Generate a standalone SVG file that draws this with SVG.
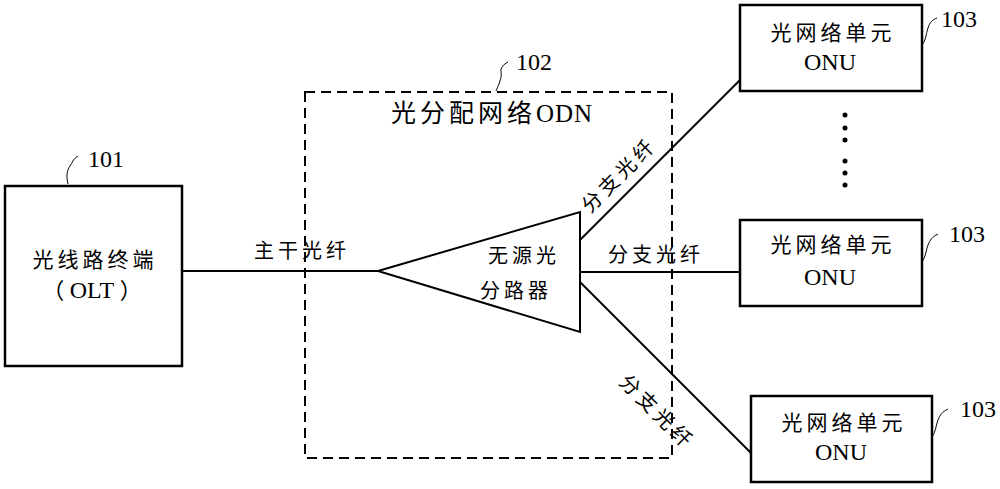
<svg xmlns="http://www.w3.org/2000/svg" width="1000" height="489" viewBox="0 0 1000 489">
<style>
.box{fill:#fff;stroke:#000;stroke-width:2.5}
.ln{fill:none;stroke:#000;stroke-width:2}
.lead{fill:none;stroke:#000;stroke-width:1}
.cn{font-family:"Liberation Serif","Noto Sans CJK SC",serif;font-size:20px;letter-spacing:4px;fill:#000;text-anchor:middle}
.en{font-family:"Liberation Serif",serif;font-size:24px;fill:#000;text-anchor:middle}
.num{font-family:"Liberation Serif",serif;font-size:24px;fill:#000}
</style>
<rect width="1000" height="489" fill="#fff"/>
<g id="odn">
<rect x="305" y="92" width="367" height="366" fill="none" stroke="#000" stroke-width="2" stroke-dasharray="10,6"/>
<text class="cn" x="492" y="122" style="font-size:25px;letter-spacing:4px">光分配网络<tspan font-family="Liberation Serif" style="letter-spacing:1px">ODN</tspan></text>
<path class="lead" d="M496,91 C500,82 502,76 501,72 C500,68 504,64 508,62"/>
<text class="num" x="516" y="70">102</text>
</g>
<g id="connectors">
<line class="ln" x1="182" y1="271" x2="378" y2="271"/>
<line class="ln" x1="580" y1="240" x2="740" y2="80"/>
<line class="ln" x1="580" y1="272" x2="740" y2="272"/>
<line class="ln" x1="580" y1="282" x2="751" y2="453"/>
<text class="cn" x="302" y="258">主干光纤</text>
<text class="cn" x="656" y="262">分支光纤</text>
<text class="cn" transform="translate(624,180) rotate(-45)">分支光纤</text>
<text class="cn" transform="translate(652,417) rotate(45)">分支光纤</text>
</g>
<g id="olt">
<rect class="box" x="5" y="186" width="177" height="180"/>
<text class="cn" x="95" y="267" style="font-size:21px">光线路终端</text>
<text class="cn" x="92" y="298" style="font-size:22px;letter-spacing:0px" xml:space="preserve">（ <tspan font-family="Liberation Serif" font-size="24">OLT</tspan> ）</text>
<path class="lead" d="M68,184 C66,176 67,170 70,166 C73,162 72,160 78,156"/>
<text class="num" x="88" y="167">101</text>
</g>
<g id="splitter">
<polygon points="378,271 580,212 580,332" fill="#fff" stroke="#000" stroke-width="2"/>
<text class="cn" x="524" y="263">无源光</text>
<text class="cn" x="516" y="298">分路器</text>
</g>
<g id="onu1">
<rect class="box" x="740" y="5" width="182" height="86"/>
<text class="cn" x="833" y="40" style="font-size:21px">光网络单元</text>
<text class="en" x="830" y="70">ONU</text>
<path class="lead" d="M922,45 C926,40 926,34 928,28 C930,22 932,20 937,18"/>
<text class="num" x="941" y="27">103</text>
</g>
<g id="dots" fill="#000">
<circle cx="845" cy="115" r="2.5"/>
<circle cx="845" cy="128" r="2.5"/>
<circle cx="845" cy="140" r="2.5"/>
<circle cx="845" cy="161" r="2.5"/>
<circle cx="845" cy="173" r="2.5"/>
<circle cx="845" cy="185" r="2.5"/>
</g>
<g id="onu2">
<rect class="box" x="740" y="220" width="182" height="86"/>
<text class="cn" x="833" y="252" style="font-size:21px">光网络单元</text>
<text class="en" x="830" y="285">ONU</text>
<path class="lead" d="M922,262 C926,256 926,250 928,245 C930,240 932,237 938,234"/>
<text class="num" x="949" y="242">103</text>
</g>
<g id="onu3">
<rect class="box" x="751" y="396" width="181" height="86"/>
<text class="cn" x="844" y="430" style="font-size:21px">光网络单元</text>
<text class="en" x="841" y="460">ONU</text>
<path class="lead" d="M932,437 C936,431 936,425 938,420 C940,415 942,412 948,409"/>
<text class="num" x="960" y="417">103</text>
</g>
</svg>
